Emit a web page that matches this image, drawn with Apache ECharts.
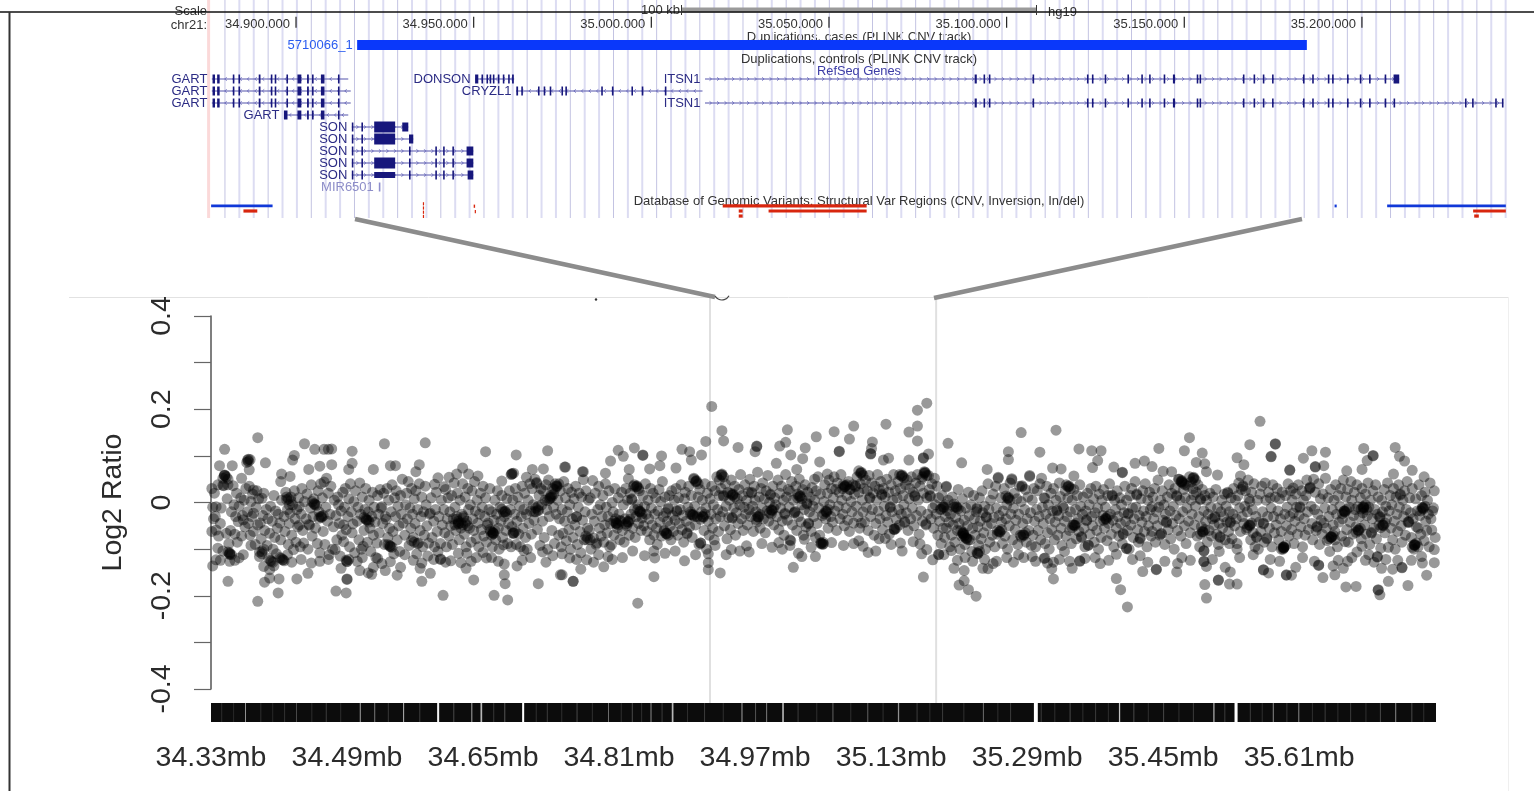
<!DOCTYPE html>
<html><head><meta charset="utf-8"><title>Log2 ratio across chr21 duplication</title>
<style>html,body{margin:0;padding:0;background:#fff}#c{width:1534px;height:791px}</style>
<script src="https://cdn.jsdelivr.net/npm/echarts@6/dist/echarts.min.js"></script></head>
<body><div id="c"></div><script>
// All values were read by eye from the reference. The outlying points are individually read;
// points inside the dense core cannot be separated in the picture, so they are approximate estimates.
// probes*: flat pairs of [kb from 34.33 Mb, log2 ratio x 1000]
const probesOuterA=[55,139,16,114,110,126,204,126,252,128,323,109,396,111,359,102,122,114,133,114,138,114,142,115,166,110,98,101,96,91,64,85,43,91,44,93,10,79,25,79,128,78,142,81,166,84,162,71,191,71,115,71,211,79,217,79,245,81,241,66,83,61,93,56,82,45,16,58,45,70,36,52,296,74,289,61,280,54,267,53,303,61,314,57,263,39,274,34,378,71,391,72,417,76,438,66,354,61,354,62,342,46,371,54,20,-169,55,-212,79,-194,101,-164,114,-152,147,-190,159,-194,160,-164,160,-165,273,-199,333,-199,349,-209,345,-155,346,-174,345,-132,360,-136,309,-166,385,-174,411,-155,426,-169,248,-169,258,-152,246,-141,248,-130,219,-156,223,-139,63,-171,80,-164,69,-162,62,-137,69,-144,185,-151,189,-154,175,-146,205,-146,191,-139,201,-131,211,-127,153,-141,2,-136,6,-123,11,-124,22,-126,33,-119,47,-92,300,-141,294,-129,282,-125,270,-121,270,-122,312,-118,320,-107,324,-119,291,-109,301,-109,368,-103,390,-106,413,-110,422,-119,435,-143,442,-123];
const probesCoreA=[1,30,2,-10,3,-35,1,-62,4,20,5,-30,6,-9,6,-59,8,38,9,-72,11,-45,12,-12,14,37,15,36,16,59,18,-66,19,8,20,38,21,-88,22,-110,22,-111,23,-60,24,-20,26,36,27,-5,28,-68,29,-30,30,20,31,-85,32,-41,33,-8,35,10,36,-72,37,-28,38,-37,39,5,40,-52,41,30,43,-20,44,-45,45,35,46,-70,47,2,48,-30,49,18,50,27,50,-23,50,-62,52,-90,53,-10,54,25,55,-48,56,8,57,-116,58,-44,59,-78,60,-105,60,9,61,-28,62,20,63,-60,65,-15,66,-92,67,-35,69,-66,70,-8,71,-126,72,-40,73,-100,74,15,75,-75,76,-18,77,-110,78,-55,79,-25,81,-44,82,-80,83,5,84,-123,85,-123,86,-30,87,-62,88,22,89,6,90,-15,91,-90,92,-45,93,-23,94,12,95,-70,96,-5,97,-101,98,25,99,-35,100,-85,101,-15,102,-52,103,10,104,-9,104,-48,105,-95,106,-25,107,30,108,-60,109,-87,110,2,112,-35,113,18,114,-100,115,-47,116,-49,117,-12,118,38,119,-72,120,-30,121,8,122,-3,122,-5,123,-55,125,-88,126,25,127,-20,128,-108,129,40,130,-30,130,-32,131,10,132,-62,133,44,134,-90,135,-10,136,52,137,-40,138,20,139,-112,140,-25,141,35,143,-100,144,-52,145,5,146,-101,147,-28,148,-80,149,12,150,-5,151,-45,152,-115,153,-18,154,-70,155,22,156,-48,156,-84,157,-10,158,30,159,-58,160,-126,160,-127,161,-30,162,8,163,-95,164,40,165,-20,166,-65,167,-46,168,2,169,-108,170,25,172,-40,173,-10,174,-80,175,42,176,-25,177,-100,178,12,179,-94,180,-60,181,-15,182,30,183,-37,183,-38,184,-85,185,-20,186,5,187,-55,188,-105,189,-30,190,22,191,-70,192,-10,193,-42,194,-118,195,-87,196,15,197,-25,198,-65,199,28,200,-12,201,-9,202,-45,203,20,204,-90,205,-30,206,-36,207,30,208,-75,209,5,210,-55,211,-94,211,-95,212,-20,213,38,214,-62,215,-110,216,10,217,-30,218,25,219,-80,220,-8,221,-50,222,-105,223,15,224,-25,225,50,226,-44,228,-70,229,-5,230,20,231,-35,232,45,233,-92,234,-12,235,-55,236,30,237,-25,238,-75,239,8,240,-45,241,25,242,-110,243,-15,244,-87,245,40,246,-60,247,-30,248,12,249,-95,250,-20,251,-70,252,35,253,-5,254,-50,255,-115,256,-87,257,-25,258,-23,259,10,260,-75,262,-40,263,-95,264,-15,265,22,266,-62,267,-105,268,-30,270,-88,271,5,272,-48,274,-15,275,-65,276,28,277,-95,278,-35,279,10,280,-72,281,-20,282,-50,283,15,284,-90,285,-35,286,42,287,-10,288,-60,289,-30,290,20,291,-44,291,-46,292,-80,293,5,294,-55,295,-25,296,40,297,-30,297,-33,298,-68,299,12,300,-95,301,-40,302,30,303,-15,304,-55,305,-5,306,-85,307,25,308,-35,309,-60,310,45,311,-18,312,-78,313,5,314,-44,315,-95,316,-25,317,20,318,-58,319,-10,320,35,321,-72,322,-30,323,10,324,-85,325,-48,326,-44,327,-15,328,30,329,-62,330,-20,331,-95,332,-66,332,-67,332,-65,333,-38,334,5,335,-80,336,-25,337,25,338,-55,339,-100,340,-10,341,-40,342,15,343,-75,344,-91,345,-30,346,-19,346,-20,347,-60,348,8,349,-88,350,-45,351,25,352,-15,353,-95,354,-52,355,5,356,-66,356,-65,357,-25,358,30,359,-90,360,-40,361,12,362,-68,363,-8,364,-95,365,-30,366,35,367,-55,368,-15,369,20,370,-75,371,-25,372,-100,373,5,374,-45,375,40,376,-18,377,-68,378,30,379,-5,380,-38,381,50,382,-20,383,41,383,43,384,-58,385,-16,385,-18,386,15,387,-92,388,30,389,-5,390,-40,391,25,392,-75,393,5,394,38,395,-15,396,-100,397,48,398,-30,399,9,399,11,400,15,401,-60,402,30,403,-10,404,-88,405,40,406,-25,407,34,407,36,408,5,409,-70,410,-35,411,25,412,-95,413,-15,414,-66,415,45,416,-40,417,10,418,-82,419,-20,420,30,421,-58,422,-5,423,-100,424,22,425,-35,426,-75,427,8,428,-48,429,35,430,-30,430,-31,431,-90,432,-10,433,20,434,-62,435,-108,436,12,437,-38,438,49,439,-80,440,-20,441,25,442,-80,443,-55,444,5];
const probesOuterB=[589,206,502,-216,601,154,603,132,582,131,678,156,712,141,733,152,756,164,794,168,751,136,831,198,842,213,831,164,821,151,831,132,867,127,883,85,953,150,994,155,975,108,938,109,938,92,913,71,479,112,498,117,485,99,508,101,508,102,470,89,416,76,437,66,530,100,528,79,547,74,554,114,563,109,565,91,577,102,492,71,516,72,491,51,464,63,620,118,642,120,642,121,640,109,669,121,676,129,682,102,699,117,696,94,739,109,739,110,778,130,777,116,776,104,776,105,791,91,797,95,821,91,838,95,838,96,844,104,689,71,710,50,725,61,716,87,413,-155,426,-169,462,-138,467,-116,521,-159,534,-109,522,-119,521,-104,557,-125,585,-144,585,-129,585,-110,576,-87,599,-151,593,-92,612,-101,630,-93,633,-106,660,-96,685,-139,691,-109,695,-116,711,-116,698,-79,681,-92,720,-89,756,-88,767,-94,773,-107,782,-104,793,-77,813,-104,811,-87,836,-110,834,-89,838,-160,849,-123,856,-111,856,-112,842,-101,874,-141,886,-146,880,-177,886,-168,891,-187,900,-201,887,-118,902,-109,902,-110,871,-103,908,-141,914,-142,920,-131,936,-118,956,-118];
const probesCoreB=[445,-60,446,10,447,-100,448,-25,449,47,450,-76,451,-40,452,20,453,-90,454,-87,455,-15,456,35,457,-55,458,-5,459,-72,460,-30,461,15,462,-85,463,-48,464,40,465,-10,466,-65,467,-30,468,25,469,-95,470,-45,471,-91,472,0,473,-20,474,-70,475,30,476,-35,477,-44,477,-46,478,-55,479,10,480,-25,481,-80,482,-40,483,22,484,-60,485,-5,486,-85,487,-35,488,30,489,-50,490,5,491,-41,491,-43,492,-70,493,20,494,-25,495,6,495,8,496,-55,497,35,498,-15,499,-75,500,-30,501,34,501,36,502,-5,503,-45,504,25,505,-19,505,-21,506,-60,507,-33,508,15,509,-50,510,-8,511,40,512,-25,513,-62,514,5,515,-35,516,-80,517,30,518,-12,519,-48,520,20,521,-70,522,-25,523,10,524,-55,525,-90,526,-18,527,28,528,-42,529,2,530,-72,531,45,532,-30,533,-60,534,12,535,-22,536,-66,536,-67,537,-40,538,-12,538,-14,539,15,540,-50,541,-80,542,25,543,-28,544,-62,545,5,546,-38,547,30,548,-19,548,-17,549,-70,550,10,551,-45,552,-15,553,38,554,-58,555,-28,556,-85,557,8,558,22,559,-40,560,-67,560,-65,561,-10,562,35,563,-52,564,-25,565,15,566,-75,567,-26,567,-28,568,52,569,-8,570,-48,571,45,571,47,572,-30,573,12,574,-90,575,28,576,-87,577,-20,578,5,579,-30,579,-32,580,-60,581,40,582,-12,583,-100,584,20,585,-40,586,-70,587,8,588,-25,589,35,590,-55,591,-5,592,-80,593,25,594,-35,595,55,596,-15,597,-62,598,15,599,-30,600,30,601,59,601,61,602,-20,603,13,603,15,604,-50,605,40,606,-8,607,-78,608,22,609,-32,610,5,611,-58,612,48,613,-32,613,-34,614,16,614,18,615,-12,616,35,617,-70,618,-22,619,8,620,-45,621,28,622,-5,623,60,624,-35,625,15,626,-60,627,-10,628,38,629,-25,630,5,631,-48,632,22,633,-15,634,50,635,-30,636,20,636,22,637,-8,638,-62,639,35,640,5,641,-20,642,-42,643,65,644,-30,644,-32,645,12,646,-55,647,30,648,-12,649,42,650,-35,651,8,652,-65,653,25,654,-18,655,58,656,-40,657,0,658,16,658,18,659,-25,660,-16,660,-18,661,35,662,-48,663,10,664,-5,665,84,666,-30,667,48,668,-58,669,20,670,-12,671,35,672,-40,673,5,674,-70,675,-23,675,-25,676,60,677,12,678,-38,679,28,680,-10,681,24,681,-80,682,-82,683,45,684,-48,685,5,686,-22,687,-19,687,-21,688,35,689,-60,690,10,691,-30,692,50,693,13,693,15,694,-42,695,-5,696,28,697,-70,698,-15,699,38,700,-52,701,-1,701,-3,702,22,703,-44,703,-46,704,-20,705,12,706,-62,707,32,708,-8,709,-30,710,5,711,-75,712,25,713,-45,714,55,715,-12,716,-70,717,18,718,-87,718,-89,719,-28,720,-89,721,2,722,38,723,-35,724,-19,724,-21,725,20,726,-55,727,48,728,-5,729,-30,730,30,731,-42,732,10,733,55,734,-18,735,28,736,-60,737,42,738,-8,739,22,740,-35,741,60,742,5,743,-25,744,38,745,-50,746,34,746,36,747,-12,748,15,749,-38,750,45,751,-62,752,28,753,2,754,-20,755,38,756,-44,757,18,758,34,758,36,759,-8,760,55,761,-30,762,22,763,-55,764,40,765,63,765,65,765,-44,766,5,767,-20,768,30,769,-42,770,48,771,-10,772,25,773,-60,774,58,775,9,775,11,776,-30,777,42,778,-15,779,20,780,-70,781,35,782,-45,783,5,784,60,785,-18,786,28,787,-35,788,45,789,16,789,18,790,-58,791,30,792,-8,793,12,794,-28,795,50,796,-42,797,22,798,-68,799,-9,799,-11,800,38,801,-20,802,5,803,60,804,-57,804,-58,805,25,806,-35,807,10,808,45,809,-15,810,-48,811,30,812,-25,813,57,813,59,814,15,815,-5,816,-41,816,-43,817,38,818,-22,819,48,820,-60,821,8,822,30,823,-35,824,55,825,-12,826,22,827,-50,828,13,828,15,829,42,830,-28,831,60,832,5,833,-68,834,35,835,-18,836,50,837,-40,838,20,839,66,840,63,840,65,841,-46,841,-48,842,10,843,-25,844,58,845,28,846,13,846,15,847,-35,848,40,849,-12,850,-55,851,52,852,-5,853,-25,854,35,855,-70,856,10,857,-40,858,-15,859,-88,860,15,861,-55,862,-9,862,-11,863,-75,864,-30,865,33,865,35,865,-55,866,-18,867,5,868,-42,869,-95,870,-25,871,-70,872,12,873,-48,874,-10,875,-85,876,-32,877,-9,877,-11,878,-60,879,28,880,-45,881,-100,882,-18,883,-72,884,8,885,-66,885,-68,885,-64,886,-38,887,-90,888,-12,889,-76,889,-78,890,-50,891,22,892,-28,893,-80,894,-5,895,-105,896,-55,897,15,898,-35,899,-70,900,-20,901,-12,901,-14,902,-52,903,-92,904,10,905,-40,906,-78,907,25,908,-22,909,-65,910,-8,911,-100,912,-30,912,-32,913,-50,914,40,915,-15,916,-85,917,5,918,-45,919,-70,920,18,921,-32,922,-95,923,35,924,-12,925,-60,926,52,926,54,927,-28,928,-62,928,-64,929,10,930,-42,931,-88,932,-18,933,30,934,-72,935,-35,936,-5,937,-100,938,9,938,11,939,-50,940,42,941,-25,942,49,942,51,943,-80,944,-12,945,20,946,-58,947,-38,948,8,949,-90,950,-25,951,35,952,-70,953,2,954,34,954,36,955,-45,956,-69,956,-71,957,-15,958,28,959,-85,960,-35,961,12,962,-60,963,56,963,58,964,-22,965,-92];
const probesOuterC=[966,-116,981,-119,991,-128,989,-142,991,-164,980,-120,1021,115,1036,111,1047,111,1043,90,1037,75,1115,116,1151,139,1145,111,1166,106,1234,174,1252,125,1252,126,1247,98,1247,99,1222,124,1207,96,1215,81,1295,111,1311,108,1285,95,1356,116,1393,118,1398,99,1404,89,1367,100,1367,101,1360,90,1354,71,1413,69,1391,61,1427,55,1336,68,1269,69,1269,70,1299,76,1299,77,1309,79,990,74,1000,72,1015,57,1062,76,1072,64,1072,65,1087,84,1098,89,1107,77,1120,67,1130,66,1159,86,1169,83,1171,66,1184,59,1211,57,1013,-141,1022,-125,1022,-126,1046,-131,1004,-105,1065,-163,1070,-187,1078,-224,1065,-111,1077,-98,1077,-99,1096,-148,1112,-143,1112,-144,1093,-114,1136,-149,1137,-131,1171,-205,1169,-176,1171,-137,1168,-103,1168,-104,1168,-126,1168,-127,1185,-166,1185,-167,1198,-175,1207,-175,1193,-139,1199,-149,1186,-105,1198,-88,1207,-100,1238,-144,1238,-145,1244,-151,1265,-155,1265,-156,1271,-156,1276,-139,1257,-126,1262,-98,1308,-161,1322,-155,1335,-181,1347,-180,1332,-141,1337,-126,1320,-136,1303,-134,1303,-135,1373,-187,1373,-188,1375,-198,1385,-169,1408,-178,1430,-156,1425,-130,1401,-139,1401,-140,1390,-143,1377,-141,1372,-116,1372,-117,1362,-112,1348,-106,1334,-84,1439,-129,1439,-101];
const probesCoreC=[966,5,967,-70,968,30,969,-40,970,-95,971,-15,972,25,973,-60,974,-30,975,40,976,-80,977,52,978,-10,979,-45,980,10,981,9,981,-88,982,-25,983,35,984,-65,985,-5,986,-100,987,-35,988,20,989,-58,990,-18,991,30,992,-80,993,-42,994,5,995,-16,995,-18,996,-70,997,-28,998,42,999,13,1000,-55,1001,-92,1002,-8,1003,-12,1004,-40,1005,25,1006,-72,1007,-30,1008,10,1009,34,1009,36,1010,-60,1011,-20,1012,-88,1013,5,1014,-48,1015,28,1016,-48,1016,-50,1017,-15,1018,-78,1019,15,1020,-35,1021,-62,1022,38,1023,-8,1024,-73,1024,-75,1025,-25,1026,12,1027,-55,1028,-95,1029,-18,1030,-37,1030,-39,1031,20,1032,-91,1032,-92,1033,-5,1034,-68,1035,30,1036,-30,1037,-50,1038,8,1039,-85,1040,-22,1041,35,1042,-60,1043,-12,1044,-100,1045,18,1046,-40,1047,-75,1048,5,1049,-28,1050,28,1051,-55,1052,-10,1053,-34,1053,-36,1054,-82,1055,15,1056,-45,1057,40,1058,-25,1059,-68,1060,14,1060,16,1061,-38,1062,-95,1063,5,1064,-15,1065,-55,1066,25,1067,-30,1068,-72,1069,10,1070,-45,1071,-5,1072,-88,1073,-66,1073,-68,1074,-22,1075,35,1076,-40,1077,5,1078,-60,1079,-23,1079,-25,1080,-100,1081,15,1082,-48,1083,30,1084,-12,1085,-75,1086,-35,1087,45,1088,-10,1089,16,1089,18,1090,-58,1091,-85,1092,-28,1093,-76,1093,-78,1094,8,1095,-42,1096,25,1097,-18,1098,-62,1099,40,1100,-30,1101,-95,1102,5,1103,-50,1104,22,1105,-15,1106,-72,1107,-9,1107,-62,1108,12,1109,-35,1110,30,1111,-85,1112,-20,1113,-50,1114,48,1115,-10,1116,-70,1117,5,1118,-66,1118,-68,1119,25,1120,-38,1121,-5,1122,-90,1123,-25,1124,-41,1124,-43,1125,12,1126,-58,1127,38,1128,-18,1129,-78,1130,20,1131,-45,1132,-8,1133,-100,1134,30,1135,-28,1136,13,1136,15,1137,-60,1138,50,1139,-35,1140,5,1141,-72,1142,45,1142,47,1142,43,1143,-20,1144,28,1145,-50,1146,10,1147,-88,1148,-12,1149,35,1150,-40,1151,55,1152,-65,1153,5,1154,-25,1155,30,1156,52,1156,54,1156,16,1157,-48,1158,-8,1159,22,1160,-72,1161,38,1162,-30,1163,-95,1164,6,1164,8,1165,-52,1166,28,1167,-62,1167,-64,1168,-18,1169,15,1170,-40,1171,5,1172,-85,1173,-25,1174,-60,1175,20,1176,-10,1177,-72,1178,-35,1179,12,1180,-48,1181,-30,1181,-32,1182,28,1183,-68,1184,-12,1185,-90,1186,-45,1187,-73,1187,-75,1188,-20,1189,5,1190,-55,1191,-30,1192,18,1193,-80,1194,-8,1195,-42,1196,20,1196,22,1197,-62,1198,-20,1199,-41,1199,-43,1200,10,1201,-78,1202,-25,1203,30,1204,-50,1205,5,1206,-35,1207,-88,1208,15,1209,42,1210,-12,1211,-62,1212,28,1213,-30,1214,34,1214,36,1215,-45,1216,-8,1217,25,1218,-58,1219,-20,1220,48,1221,8,1222,2,1222,-48,1222,-50,1223,-80,1224,22,1225,-15,1226,-65,1227,40,1228,-95,1229,-30,1230,-73,1230,-75,1231,5,1232,-100,1233,-42,1234,18,1235,-62,1236,35,1237,-20,1238,-44,1238,-46,1239,-85,1240,42,1241,5,1242,-76,1242,-78,1243,-30,1244,22,1245,-55,1246,10,1247,-12,1248,-95,1249,38,1250,-30,1251,-65,1252,12,1253,-48,1254,30,1255,-18,1256,-80,1257,8,1258,-35,1259,-62,1260,22,1261,-100,1262,-96,1262,-97,1262,-95,1263,-25,1264,15,1265,-50,1266,-10,1267,40,1268,-72,1269,-30,1270,25,1271,-58,1272,5,1273,31,1273,-23,1274,-88,1275,-40,1276,18,1277,-10,1278,-68,1279,38,1280,-28,1281,-9,1281,-11,1282,-52,1283,25,1284,-95,1285,5,1286,-35,1287,-70,1288,15,1289,48,1290,-20,1291,-58,1292,30,1293,31,1293,33,1294,-8,1295,-45,1296,-80,1297,50,1298,-15,1299,22,1300,-60,1301,-51,1301,-53,1302,-25,1303,40,1304,-90,1305,8,1306,-38,1307,-68,1308,18,1309,-44,1310,-12,1311,52,1312,-55,1313,-82,1314,10,1315,-30,1316,-105,1317,28,1318,-74,1318,-75,1318,-73,1319,-15,1320,-48,1321,5,1322,-62,1323,38,1324,-25,1325,-95,1326,15,1327,-42,1328,-8,1329,30,1330,-72,1331,-35,1332,48,1333,-18,1334,-19,1334,-21,1335,12,1336,-58,1337,28,1338,-85,1339,-10,1340,-42,1341,45,1342,5,1343,-68,1344,-28,1345,22,1346,-15,1347,-52,1348,38,1349,-9,1350,-59,1350,-61,1351,-30,1352,10,1353,-78,1354,30,1354,-94,1355,-22,1356,-9,1356,-11,1356,-12,1357,-48,1358,18,1359,-68,1360,-28,1361,42,1362,-10,1363,-90,1364,5,1365,-64,1365,-66,1366,-35,1367,25,1368,-55,1369,-15,1370,38,1371,-78,1372,-25,1373,12,1374,-48,1375,-30,1375,-32,1376,-98,1377,5,1378,-20,1379,-48,1379,-50,1380,28,1381,-65,1382,-8,1383,-35,1384,42,1385,-96,1386,-18,1387,15,1388,-55,1389,-5,1390,-80,1391,30,1392,-40,1393,-100,1394,12,1395,-25,1396,-62,1397,38,1398,-10,1399,16,1399,18,1400,-50,1401,-85,1402,5,1403,-30,1404,25,1405,-70,1406,-15,1407,45,1408,-42,1409,-41,1409,-43,1410,10,1411,-22,1412,-75,1413,30,1414,-35,1415,-100,1416,-91,1416,-92,1416,-90,1417,8,1418,-52,1419,-18,1420,-55,1421,38,1422,-28,1423,-68,1424,15,1425,-10,1426,-12,1426,-14,1427,-82,1428,22,1429,-40,1430,-60,1431,5,1432,-25,1433,-95,1434,42,1435,-35,1436,-59,1437,-18,1438,-12,1439,25,1440,-75];
// Dark clumps visible in the reference, where several probes pile up
const probesClumps=[16,58,18,55,14,52,20,50,22,-108,24,-112,20,-106,44,88,46,92,42,86,57,-106,60,-110,62,-100,70,-124,73,-128,68,-120,83,-120,86,-125,81,-118,91,8,94,4,89,12,92,-5,121,-2,124,-6,119,2,129,-30,132,-28,127,-34,182,-35,185,-38,180,-32,186,-42,210,-92,213,-96,208,-90,159,-124,162,-122,291,-40,294,-44,289,-36,296,-48,287,-48,331,-64,334,-60,330,-70,328,-58,355,-66,358,-62,353,60,356,63,398,8,401,12,396,4,403,18,406,35,409,40,404,28,382,-12,385,-8,380,-20,299,-45,302,-50,344,-20,348,-24,342,-14,239,-85,243,-88,236,-82,476,-44,479,-48,474,-40,481,-38,490,-41,493,-36,488,-46,443,-76,446,-80,441,-72,535,-66,538,-70,533,-62,566,-26,569,-30,564,-20,578,-30,581,-25,576,-36,570,45,573,40,568,50,600,59,603,55,598,48,504,-19,507,-24,502,-14,500,34,503,30,498,38,643,-30,646,-26,641,-36,613,16,616,12,611,20,659,-16,662,-12,657,-22,692,13,695,8,690,18,723,-19,726,-15,721,-24,717,-87,720,-85,745,34,748,38,743,30,751,28,764,63,767,58,762,68,812,57,815,53,810,60,803,-57,806,-55,839,63,842,58,837,55,861,-9,864,-5,859,-14,876,-9,879,-13,874,-3,884,-66,887,-70,882,-60,888,-76,891,-80,886,-72,901,-108,904,-105,937,9,940,5,935,14,927,-62,930,-58,925,-68,955,-69,958,-65,953,-74,1008,34,1011,30,1006,38,1015,-48,1018,-44,1013,-54,1052,-34,1055,-30,1050,-38,1141,45,1144,41,1139,50,1146,38,1155,52,1158,48,1153,44,1166,-62,1169,-58,1164,-68,1221,-48,1224,-44,1219,-54,1261,-96,1264,-92,1259,-100,1317,-74,1320,-70,1315,-78,1322,-80,1355,-9,1358,-5,1353,-14,1360,-16,1333,-19,1336,-15,1331,-24,1349,-59,1352,-55,1347,-64,1378,-48,1381,-44,1376,-54,1415,-91,1418,-87,1413,-96,1420,-95,1425,-12,1428,-8,1423,-18];
// Mid-tone probes on the lower flank of the cloud
const probesLowerFlank=[8,-98,14,-104,28,-124,38,-112,74,-136,90,-112,95,-128,106,-122,118,-130,128,-126,138,-122,172,-126,178,-118,196,-120,228,-112,238,-124,262,-122,276,-128,306,-126,330,-118,338,-126,366,-124,376,-118,394,-128,402,-114,430,-122,450,-128,456,-112,472,-122,484,-118,496,-104,510,-114,546,-104,570,-112,606,-112,622,-104,648,-88,668,-86,672,-100,706,-96,730,-86,744,-92,762,-82,786,-78,800,-90,826,-84,862,-112,878,-124,896,-126,910,-122,924,-126,944,-128,950,-112,970,-126,984,-130,998,-122,1010,-126,1028,-120,1040,-118,1056,-124,1084,-122,1102,-128,1122,-126,1142,-118,1152,-124,1178,-122,1210,-118,1226,-112,1246,-122,1284,-118,1298,-126,1326,-124,1342,-118,1358,-124,1368,-128,1382,-122,1396,-124,1412,-124,1424,-116];
const xTickLabelLastKb=1280;
const regionBoundsKb=[587,853];
const rugExtentKb=[[0,1441]];
// rug gaps: [kb, width kb, whiteness]
const rugGaps=[[12,.7,.14],[26,.7,.12],[40,1,.55],[58,.7,.14],[72,.7,.12],[86,.7,.16],[100,.8,.25],[118,.7,.14],[135,.8,.2],[152,.7,.14],[175,1.2,.6],[192,1,.45],[208,.7,.18],[226,1,.7],[245,.8,.2],[266,2.4,.95],[285,.8,.25],[306,1.5,.5],[317,2,.7],[332,.7,.18],[345,.8,.3],[366,2.4,1],[382,.7,.15],[395,.7,.2],[412,.7,.15],[430,.8,.25],[448,.7,.15],[467,1,.4],[482,.7,.15],[495,.8,.25],[506,.7,.15],[517,1.2,.5],[530,.7,.2],[542,2,.7],[560,.7,.15],[580,.7,.2],[602,.7,.15],[624,1.2,.6],[640,.8,.3],[653,1.2,.45],[672,1.8,.75],[690,.8,.2],[712,.7,.15],[731,1,.35],[752,.7,.15],[772,1,.35],[790,.7,.15],[808,1.5,.55],[830,.7,.2],[845,.7,.14],[860,.8,.2],[885,.7,.15],[908,1,.4],[925,.7,.15],[940,.7,.2],[968,4.6,1],[976,.8,.2],[992,.7,.15],[1010,.7,.25],[1025,.7,.15],[1040,.7,.2],[1055,.7,.14],[1068,1.5,.75],[1085,.8,.25],[1102,.7,.15],[1120,.7,.25],[1138,.7,.15],[1155,.8,.2],[1179,1.5,.65],[1192,.7,.2],[1204,3.6,1],[1222,.7,.2],[1236,.7,.15],[1249,1.2,.5],[1265,.7,.18],[1279,1.2,.5],[1295,.7,.15],[1310,.8,.2],[1325,.7,.15],[1340,.7,.2],[1358,.7,.15],[1375,.8,.25],[1393,1.2,.5],[1412,.8,.25],[1426,.7,.15]];
// Browser panel, kb from 34.9 Mb
const positionKb=[0,50,100,150,200,250,300];
const positionLabels=['34.900.000','34.950.000','35.000.000','35.050.000','35.100.000','35.150.000','35.200.000'];
const caseDupKb=[[17.2,284.5,-2.83]];
const caseDupName='5710066_1';
const svBlue=[[-23.9,-6.6,10.58],[292.3,292.9,10.58],[307.1,340.5,10.58]];
const svRed=[[-14.8,-10.9,11],[35.7,36,10.4],[35.7,36,10.75],[35.7,36,11.1],[35.7,36,11.45],[50,50.4,10.6],[50.3,50.6,11.05],[120.1,160.6,10.58],[133,160.6,11],[124.6,125.7,11],[124.6,125.7,11.42],[331.3,340.5,11],[331.6,332.9,11.42]];
const geneNames=['GART','GART','GART','GART','SON','SON','SON','SON','SON','MIR6501','DONSON','CRYZL1','ITSN1','ITSN1'];
const geneRows=[0,1,2,3,4,5,6,7,8,9,0,1,0,2];
const geneStarts=[-23.7,-23.7,-23.7,-3.4,15.7,15.7,15.7,15.7,15.7,23.3,50.4,61.9,115.1,115.1];
const geneEnds=[14.7,15.4,15.4,14.7,31.6,33,49.9,49.9,49.9,23.7,61.4,114.4,310.5,339.8];
const geneStrand=[-1,-1,-1,-1,1,1,1,1,1,0,-1,-1,1,1];
const gartExons=[[-23.5,-22.8],[-22.2,-21.5],[-17.8,-17.6],[-16.2,-16],[-10.5,-10],[-7.1,-6.8],[-6,-5.7],[-2.7,-2.5],[.4,1.5],[3.1,3.6],[4.5,4.9],[7,8],[11.8,12]];
const itsnExons=[[191,191.6],[193.5,193.8],[195,195.3],[207.3,207.7],[222.6,222.9],[224,224.3],[227.6,227.8],[234,234.3],[237.9,238.2],[240.1,240.4],[244.2,244.4],[246.8,247.4],[253.5,253.8],[254.3,254.6],[266.5,266.7],[269.5,269.7],[272.1,272.3],[274.7,274.9],[283.4,283.6],[286,286.2],[290.4,290.6],[291.6,291.8],[295.8,296],[299.4,299.6],[302,302.2],[306.4,306.6],[308.9,309.1]];
const sonBig=[22,27.9];
const geneExons=[gartExons,gartExons,gartExons,[[-3.4,-2.4],...gartExons.slice(8)],
 [[15.7,15.9],[18.4,18.6],sonBig,[29.9,31.6]],
 [[15.7,15.9],[18.4,18.6],sonBig,[31.8,33]],
 [[15.7,15.9],[18.4,18.6],[31.8,32.2],[39.2,39.4],[41.4,41.6],[44,44.2],[48,49.9]],
 [[15.7,15.9],[18.4,18.6],sonBig,[31.8,32.2],[39.2,39.4],[41.4,41.6],[44,44.2],[48,49.9]],
 [[15.7,15.9],[18.4,18.6],sonBig,[31.8,32.2],[39.2,39.4],[41.4,41.6],[44,44.2],[48.3,49.9]],
 [[23.3,23.7]],
 [[50.4,51.3],[52.2,52.4],[53.6,53.8],[54.5,54.7],[55.4,55.6],[56.8,57],[58.2,58.4],[59.7,59.9],[60.8,61.3]],
 [[62,62.5],[63.4,63.6],[68.1,68.3],[69.7,69.9],[71.4,71.6],[74.7,74.9],[75.8,76],[85.9,86.1],[88.9,89.1],[94.4,94.6],[97.3,97.5],[103.8,104]],
 [...itsnExons,[309.3,310.5]],
 [...itsnExons,[329,329.2],[331,331.2],[337.5,337.7],[339.4,339.6]]];
const guideFirstKb=-20,guideStepKb=4.05,guideCount=90,highlightKb=-24.6;

const probes=[];
[probesOuterA,probesCoreA,probesOuterB,probesCoreB,probesOuterC,probesCoreC,probesClumps,probesLowerFlank].forEach(a=>{
  for(let i=0;i<a.length;i+=2)probes.push([a[i],a[i+1]/1000]);});
const guides=[];for(let i=0;i<guideCount;i++)guides.push([guideFirstKb+guideStepKb*i,i%3]);

const F='"Liberation Sans",Arial,sans-serif';
const NAVY='#17177c',TXT='#2b2b2b';
function rectEl(x,y,w,h,fill){return{type:'rect',shape:{x,y,width:w,height:h},style:{fill}};}
function seg(x1,y1,x2,y2,stroke,lw){return{type:'line',shape:{x1,y1,x2,y2},style:{stroke,lineWidth:lw}};}
const spanSeries=(data,color,h,z)=>({type:'custom',xAxisIndex:0,yAxisIndex:0,z,silent:true,data,encode:{x:[0,1],y:2},
  renderItem(p,api){const a=api.coord([api.value(0),api.value(2)]),b=api.coord([api.value(1),api.value(2)]);
    return rectEl(a[0],a[1]-h/2,Math.max(b[0]-a[0],1.2),h,color);}});
const option={animation:false,backgroundColor:'#fff',textStyle:{fontFamily:F},
 grid:[{left:207.2,top:0,width:1300.4,height:218},{left:211,top:316,width:1225,height:373},{left:211,top:703,width:1225,height:19}],
 xAxis:[{gridIndex:0,type:'value',min:-25,max:341,show:false},
  {gridIndex:1,type:'value',min:0,max:1441,interval:160,axisLine:{show:false},axisTick:{show:false},splitLine:{show:false},
   axisLabel:{margin:55,fontSize:28.5,color:TXT,fontFamily:F,hideOverlap:false,showMaxLabel:false,
    formatter:v=>v>xTickLabelLastKb?'':((34330+v)/1000).toFixed(2)+'mb'}},
  {gridIndex:2,type:'value',min:0,max:1441,show:false}],
 yAxis:[{gridIndex:0,type:'value',min:-6.5833,max:11.5833,inverse:true,show:false},
  {gridIndex:1,type:'value',min:-0.4,max:0.4,interval:0.1,name:'Log2 Ratio',nameLocation:'middle',nameRotate:90,nameGap:83,
   nameTextStyle:{fontSize:28.5,color:TXT,fontFamily:F},
   axisLine:{show:true,lineStyle:{color:'#555',width:1.5}},axisTick:{show:true,length:17,lineStyle:{color:'#666',width:1.2}},splitLine:{show:false},
   axisLabel:{rotate:90,margin:34,fontSize:28.5,color:TXT,fontFamily:F,showMinLabel:true,showMaxLabel:true,
    formatter:v=>{const t=Math.round(v*10);return t%2?'':(t===0?'0':(t/10).toFixed(1));}}},
  {gridIndex:2,type:'value',min:0,max:1,show:false}],
 series:[
  {type:'custom',xAxisIndex:0,yAxisIndex:0,z:1,silent:true,data:guides,encode:{x:0,y:1},
   renderItem(p,api){const x=api.coord([api.value(0),0])[0];const thin=api.value(1)===0;
     return seg(x,0,x,218,thin?'#c3c3e2':'#dcdcf2',thin?1:2);}},
  {type:'custom',xAxisIndex:0,yAxisIndex:0,z:1,silent:true,data:[[highlightKb,0]],encode:{x:0,y:1},
   renderItem(p,api){const x=api.coord([api.value(0),0])[0];return seg(x,0,x,218,'#fbd9d9',3);}},
  {type:'custom',xAxisIndex:0,yAxisIndex:0,z:4,silent:true,data:positionKb.map(k=>[k,-4.6]),encode:{x:0,y:1},
   renderItem(p,api){const c=api.coord([api.value(0),api.value(1)]);
     return{type:'group',children:[seg(c[0],c[1]-7,c[0],c[1]+4,'#222',1.2),
      {type:'text',style:{x:c[0]-6,y:c[1]+.5,text:positionLabels[p.dataIndex],align:'right',verticalAlign:'middle',fill:'#333',font:'13px '+F}}]};}},
  {type:'custom',xAxisIndex:0,yAxisIndex:0,z:5,silent:true,data:geneNames.map((n,i)=>[geneStarts[i],geneEnds[i],geneRows[i]]),encode:{x:[0,1],y:2},
   renderItem(p,api){const i=p.dataIndex,row=api.value(2),s=geneStrand[i];
     const a=api.coord([api.value(0),row]),b=api.coord([api.value(1),row]),y=a[1];
     const mir=geneNames[i]==='MIR6501';const col=mir?'#8d8dcc':NAVY;const kids=[];
     if(!mir){kids.push(seg(a[0],y,b[0],y,'#5555ab',1.2));
      for(let x=a[0]+6;x<b[0]-3&&s;x+=7.5)kids.push({type:'polyline',shape:{points:[[x-s*1.4,y-1.6],[x+s*.6,y],[x-s*1.4,y+1.6]]},style:{stroke:'#6c6cbc',fill:null,lineWidth:.9}});}
     geneExons[i].forEach(e=>{const p0=api.coord([e[0],row])[0],p1=api.coord([e[1],row])[0];
       const big=e===sonBig;const h=big?(i===8?6:11):9;
       kids.push(rectEl(p0,y-h/2,Math.max(p1-p0,1.6),h,col));});
     kids.push({type:'text',style:{x:a[0]-(mir?5:4.5),y:y+.5,text:geneNames[i],align:'right',verticalAlign:'middle',fill:mir?'#8d8dc8':'#2b2b84',font:'13px '+F}});
     return{type:'group',children:kids};}},
  spanSeries(caseDupKb,'#0a38fa',10,6),
  {type:'custom',xAxisIndex:0,yAxisIndex:0,z:6,silent:true,data:caseDupKb,encode:{x:[0,1],y:2},
   renderItem(p,api){const a=api.coord([api.value(0),api.value(2)]);
     return{type:'text',style:{x:a[0]-4.5,y:a[1]+.5,text:caseDupName,align:'right',verticalAlign:'middle',fill:'#2a5cf0',font:'13px '+F}};}},
  spanSeries(svBlue,'#1038d8',2.8,5),
  spanSeries(svRed,'#d8260e',3.2,5),
  // lower panel guides
  {type:'custom',xAxisIndex:1,yAxisIndex:1,z:1,silent:true,data:regionBoundsKb.map(k=>[k,0]),encode:{x:0,y:1},
   renderItem(p,api){const a=api.coord([api.value(0),0.442]),b=api.coord([api.value(0),-0.43]);return seg(a[0],a[1],b[0],b[1],'#e0e0e0',2);}},
  {type:'custom',xAxisIndex:1,yAxisIndex:1,z:1,silent:true,data:[[0,0]],encode:{x:0,y:1},
   renderItem(p,api){const a=api.coord([0,0]),b=api.coord([1441,0]);return seg(a[0],a[1],b[0],b[1],'#e6e6e6',1);}},
  {type:'scatter',xAxisIndex:1,yAxisIndex:1,z:3,silent:true,symbol:'circle',symbolSize:11,clip:true,data:probes,itemStyle:{color:'rgba(0,0,0,0.5)',borderWidth:0}},
  // rug
  {type:'custom',xAxisIndex:2,yAxisIndex:2,z:3,silent:true,data:rugExtentKb.map(r=>[r[0],r[1],0]),encode:{x:[0,1],y:2},
   renderItem(p,api){const a=api.coord([api.value(0),1]),b=api.coord([api.value(1),0]);return rectEl(a[0],a[1],b[0]-a[0],b[1]-a[1],'#0c0c0c');}},
  {type:'custom',xAxisIndex:2,yAxisIndex:2,z:4,silent:true,data:rugGaps.map(g=>[g[0],g[1],g[2]]),encode:{x:0,y:2},
   renderItem(p,api){const k=api.value(0),w=api.value(1),a=api.coord([k,1]),b=api.coord([k+w,0]);
     return{type:'rect',shape:{x:a[0],y:a[1],width:Math.max(b[0]-a[0],1),height:b[1]-a[1]},style:{fill:'rgba(255,255,255,'+api.value(2)+')'}};}}
 ],
 graphic:{elements:[
  {type:'line',z:20,shape:{x1:0,y1:12,x2:1534,y2:12},style:{stroke:'#111',lineWidth:1.4},silent:true},
  {type:'line',z:20,shape:{x1:9.5,y1:12,x2:9.5,y2:791},style:{stroke:'#333',lineWidth:2},silent:true},
  {type:'line',z:0,shape:{x1:69,y1:297.5,x2:1508,y2:297.5},style:{stroke:'#e2e2e2',lineWidth:1},silent:true},
  {type:'line',z:0,shape:{x1:1508.5,y1:297,x2:1508.5,y2:791},style:{stroke:'#efefef',lineWidth:1},silent:true},
  {type:'rect',z:4,shape:{x:681.5,y:7.5,width:355,height:5},style:{fill:'#9a9a9a'},silent:true},
  {type:'line',z:21,shape:{x1:681.5,y1:5,x2:681.5,y2:15},style:{stroke:'#333',lineWidth:1},silent:true},
  {type:'line',z:21,shape:{x1:1036.5,y1:5,x2:1036.5,y2:15},style:{stroke:'#333',lineWidth:1},silent:true},
  {type:'line',z:20,shape:{x1:355,y1:219,x2:715,y2:297},style:{stroke:'#8c8c8c',lineWidth:4.5},silent:true},
  {type:'line',z:20,shape:{x1:1302,y1:219,x2:934,y2:298},style:{stroke:'#8c8c8c',lineWidth:4.5},silent:true},
  {type:'circle',z:20,shape:{cx:596,cy:299.5,r:1.2},style:{fill:'#333'},silent:true},
  {type:'arc',z:20,shape:{cx:722,cy:292,r:8,startAngle:0.5,endAngle:2.6},style:{stroke:'#444',fill:null,lineWidth:1.2},silent:true},
  {type:'text',z:10,style:{x:207,y:11,text:'Scale',align:'right',verticalAlign:'middle',fill:'#333',font:'13px '+F},silent:true},
  {type:'text',z:10,style:{x:207,y:25,text:'chr21:',align:'right',verticalAlign:'middle',fill:'#333',font:'13px '+F},silent:true},
  {type:'text',z:10,style:{x:680,y:10,text:'100 kb',align:'right',verticalAlign:'middle',fill:'#333',font:'13px '+F},silent:true},
  {type:'text',z:10,style:{x:1048,y:12,text:'hg19',align:'left',verticalAlign:'middle',fill:'#333',font:'13px '+F},silent:true},
  {type:'text',z:1,style:{x:859,y:37,text:'Duplications, cases (PLINK CNV track)',align:'center',verticalAlign:'middle',fill:'#333',font:'13px '+F},silent:true},
  {type:'text',z:10,style:{x:859,y:59,text:'Duplications, controls (PLINK CNV track)',align:'center',verticalAlign:'middle',fill:'#333',font:'13px '+F},silent:true},
  {type:'text',z:10,style:{x:859,y:71,text:'RefSeq Genes',align:'center',verticalAlign:'middle',fill:'#3d3da6',font:'12.8px '+F},silent:true},
  {type:'text',z:4,style:{x:859,y:201,text:'Database of Genomic Variants: Structural Var Regions (CNV, Inversion, In/del)',align:'center',verticalAlign:'middle',fill:'#333',font:'13px '+F},silent:true}
 ]}
};
const chart=echarts.init(document.getElementById('c'),null,{renderer:'canvas'});
chart.setOption(option);
</script></body></html>
